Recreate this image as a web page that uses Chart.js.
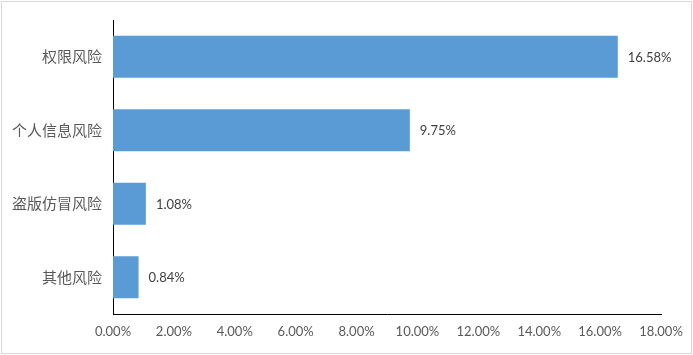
<!DOCTYPE html>
<html><head><meta charset="utf-8">
<script src="https://cdn.jsdelivr.net/npm/chart.js@4"></script>
<style>html,body{margin:0;padding:0;background:#fff;}#wrap{width:693px;height:355px;position:relative;}</style>
</head><body><div id="wrap"><canvas id="c" width="693" height="355"></canvas></div>
<script>
const categories = ["权限风险", "个人信息风险", "盗版仿冒风险", "其他风险"];
const values = [16.58, 9.75, 1.08, 0.84];
const tickMax = 18;
const tickStep = 2;

const frame = {
  id: 'frame',
  afterDraw(chart) {
    const ctx = chart.ctx;
    ctx.save();
    ctx.strokeStyle = '#d9d9d9';
    ctx.lineWidth = 1;
    ctx.strokeRect(1.5, 1.5, 690, 352);
    ctx.restore();
  }
};
const dataLabels = {
  id: 'dataLabels',
  afterDatasetsDraw(chart) {
    const ctx = chart.ctx;
    const meta = chart.getDatasetMeta(0);
    ctx.save();
    ctx.font = '13px Lato, "Noto Sans", sans-serif';
    ctx.fillStyle = '#404040';
    ctx.textAlign = 'left';
    ctx.textBaseline = 'middle';
    meta.data.forEach((bar, i) => {
      ctx.fillText(values[i].toFixed(2) + '%', bar.x + 10, bar.y + 1);
    });
    ctx.restore();
  }
};

new Chart(document.getElementById('c'), {
  type: 'bar',
  data: {
    labels: categories,
    datasets: [{
      data: values,
      backgroundColor: '#5B9BD5',
      borderWidth: 0,
      categoryPercentage: 1,
      barPercentage: 0.57
    }]
  },
  options: {
    indexAxis: 'y',
    responsive: false,
    animation: false,
    layout: { padding: { left: 0, top: 19, right: 32, bottom: 0 } },
    plugins: { legend: { display: false }, tooltip: { enabled: false } },
    scales: {
      x: {
        min: 0, max: tickMax,
        afterFit(s) { s.height = 41; },
        grid: { display: false, drawTicks: false },
        border: { display: true, color: '#000', width: 1 },
        ticks: {
          stepSize: tickStep,
          padding: 10,
          color: '#595959',
          font: { family: 'Lato, "Noto Sans", sans-serif', size: 13 },
          callback: v => v.toFixed(2) + '%'
        }
      },
      y: {
        afterFit(s) { s.width = 113; },
        grid: { display: false, drawTicks: false },
        border: { display: true, color: '#000', width: 1 },
        ticks: {
          padding: 11,
          color: '#595959',
          font: { family: '"Noto Sans CJK SC", sans-serif', size: 15 }
        }
      }
    }
  },
  plugins: [frame, dataLabels]
});
</script></body></html>
